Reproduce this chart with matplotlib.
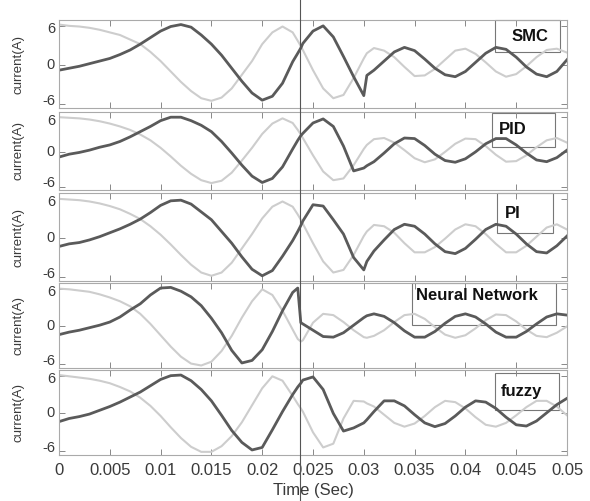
import numpy as np
import matplotlib
matplotlib.use("Agg")
import matplotlib.pyplot as plt
import matplotlib.transforms as mtransforms
from matplotlib.lines import Line2D
from matplotlib.patches import Rectangle

# --- data (time in ms, current in A) ---
t_ms = list(range(0, 24)) + [23.5, 23.8] + list(range(24, 31)) + [30.3] + list(range(31, 51))

smc_ref = [6.2, 6.0, 5.9, 5.7, 5.4, 5.0, 4.6, 3.9, 3.2, 2.0, 0.6, -1.0, -2.6, -4.0, -5.1, -5.5, -5.0, -3.6, -1.5, 0.6, 3.2, 5.0, 5.9, 5.0,
           3.7, 2.9,
           2.3, -0.8, -3.6, -5.1, -4.6, -2.0, 1.0,
           1.8,
           2.6, 2.2, 1.2, -0.3, -1.7, -1.6, -0.6, 0.8, 2.2, 2.5, 1.7, 0.4, -1.0, -1.8, -1.4, -0.2, 1.2, 2.3, 2.5, 1.9]
smc_out = [-0.8, -0.5, -0.2, 0.2, 0.6, 1.0, 1.6, 2.3, 3.2, 4.2, 5.2, 5.9, 6.2, 5.8, 4.6, 3.2, 1.5, -0.5, -2.5, -4.3, -5.4, -4.8, -2.8, 0.5,
           1.8, 2.6,
           3.3, 5.2, 6.0, 4.3, 1.3, -1.8, -4.7,
           -1.6,
           -0.8, 0.6, 2.0, 2.7, 2.2, 0.9, -0.5, -1.5, -1.8, -1.0, 0.4, 1.8, 2.7, 2.4, 1.2, -0.3, -1.4, -1.8, -1.0, 0.8]

pid_ref = [6.0, 5.9, 5.8, 5.6, 5.3, 4.9, 4.4, 3.8, 3.0, 2.0, 0.7, -0.8, -2.4, -3.8, -4.9, -5.4, -5.0, -3.6, -1.5, 0.7, 3.1, 4.9, 5.8, 5.0,
           3.8, 3.0,
           2.4, -0.6, -3.4, -4.9, -4.6, -2.3, 0.5,
           1.2,
           2.2, 2.4, 1.6, 0.3, -1.1, -1.8, -1.3, 0.0, 1.4, 2.3, 2.2, 1.0, -0.5, -1.7, -1.6, -0.6, 0.8, 2.0, 2.4, 1.6]
pid_out = [-0.9, -0.4, -0.1, 0.3, 0.8, 1.2, 1.8, 2.6, 3.5, 4.4, 5.4, 6.0, 6.0, 5.4, 4.6, 3.5, 1.8, -0.2, -2.3, -4.2, -5.3, -4.6, -2.6, 0.5,
           2.0, 2.8,
           3.2, 5.0, 5.7, 4.4, 1.0, -3.3, -2.8,
           -2.4,
           -1.7, -0.2, 1.4, 2.4, 2.3, 1.1, -0.4, -1.5, -1.8, -1.2, 0.0, 1.4, 2.3, 2.3, 1.2, -0.2, -1.4, -1.7, -1.0, 0.3]

pi_ref = [6.0, 5.9, 5.8, 5.6, 5.3, 4.9, 4.4, 3.7, 2.9, 1.8, 0.5, -1.0, -2.6, -4.1, -5.3, -5.8, -5.3, -3.8, -1.6, 0.6, 3.0, 4.8, 5.6, 4.8,
          3.6, 2.8,
          2.2, -0.8, -3.6, -5.3, -4.9, -2.6, 0.3,
          1.0,
          2.0, 1.8, 0.8, -0.8, -2.2, -2.2, -1.4, -0.1, 1.3, 2.1, 1.8, 0.6, -0.9, -2.2, -2.2, -1.2, 0.2, 1.6, 2.1, 1.3]
pi_out = [-1.3, -0.9, -0.7, -0.3, 0.2, 0.8, 1.4, 2.1, 2.9, 3.9, 5.0, 5.7, 5.8, 5.2, 4.0, 2.8, 1.0, -0.8, -2.9, -4.8, -5.8, -5.0, -2.8, -0.4,
          1.0, 1.9,
          2.6, 5.1, 4.9, 2.8, 0.6, -3.0, -4.9,
          -3.6,
          -2.0, -0.3, 1.3, 2.1, 1.8, 0.6, -0.9, -2.1, -2.4, -1.6, -0.2, 1.3, 2.1, 1.8, 0.6, -0.9, -2.1, -2.3, -1.2, 0.3]

nn_ref = [6.0, 5.9, 5.7, 5.5, 5.1, 4.6, 4.0, 3.2, 2.0, 0.4, -1.4, -3.2, -4.8, -5.9, -6.2, -5.6, -3.9, -1.5, 1.4, 4.0, 5.9, 5.0, 2.5, -0.5,
          -2.0, -2.4,
          -2.2, 0.6, 2.0, 1.8, 0.7, -0.6, -1.7,
          -1.8,
          -1.5, -0.6, 0.7, 1.8, 2.0, 1.2, -0.1, -1.3, -1.8, -1.4, -0.3, 1.0, 1.9, 1.8, 0.8, -0.5, -1.5, -1.7, -1.0, 0.0]
nn_out = [-1.3, -0.9, -0.6, -0.2, 0.2, 0.7, 1.5, 2.6, 3.6, 5.0, 6.1, 6.2, 5.6, 4.7, 3.3, 1.3, -1.0, -3.8, -5.8, -5.4, -3.7, -0.8, 2.5, 5.4,
          6.1, 0.6,
          0.4, -0.6, -1.6, -1.7, -1.0, 0.2, 1.4,
          1.7,
          2.0, 1.6, 0.6, -0.7, -1.7, -1.7, -0.8, 0.5, 1.6, 2.0, 1.5, 0.4, -0.9, -1.7, -1.7, -0.8, 0.4, 1.5, 2.0, 1.8]

fuzzy_ref = [6.1, 5.9, 5.7, 5.5, 5.2, 4.8, 4.2, 3.5, 2.5, 1.2, -0.4, -2.2, -3.9, -5.3, -6.1, -6.1, -5.2, -3.6, -1.4, 1.3, 4.0, 5.9, 5.2, 2.8,
             1.5, 0.8,
             0.3, -3.0, -5.4, -4.8, -0.8, 2.0, 1.9,
             1.6,
             1.1, -0.2, -1.5, -2.1, -1.6, -0.4, 1.0, 2.0, 1.8, 0.8, -0.6, -1.8, -2.1, -1.5, -0.3, 1.0, 2.0, 2.0, 1.1, -0.3]
fuzzy_out = [-1.3, -0.8, -0.5, -0.1, 0.5, 1.1, 1.8, 2.6, 3.4, 4.4, 5.4, 6.0, 6.1, 5.2, 3.8, 2.0, -0.3, -2.7, -4.6, -5.8, -5.4, -2.6, 0.3, 3.0,
             4.2, 4.8,
             5.3, 5.8, 3.8, 0.0, -2.8, -2.3, -1.5,
             -1.0,
             0.3, 2.0, 2.0, 1.2, -0.2, -1.5, -2.1, -1.6, -0.4, 1.0, 2.0, 1.8, 0.8, -0.6, -1.8, -2.0, -1.2, 0.1, 1.4, 2.4]

labels = ["SMC", "PID", "PI", "Neural Network", "fuzzy"]
ref_curves = [smc_ref, pid_ref, pi_ref, nn_ref, fuzzy_ref]
out_curves = [smc_out, pid_out, pi_out, nn_out, fuzzy_out]

x_ticks = [0, 0.005, 0.01, 0.015, 0.02, 0.025, 0.03, 0.035, 0.04, 0.045, 0.05]
x_tick_labels = ["0", "0.005", "0.01", "0.015", "0.02", "0.025", "0.03", "0.035", "0.04", "0.045", "0.05"]
y_ticks = [-6, 0, 6]
switch_time = 0.02374

# --- layout (pixels of a 590x501 figure) ---
W, H = 590, 501
left_px, right_px = 59, 567
panel_rows = [(20, 108), (112, 190), (193, 281), (283, 368), (370, 455)]
# label boxes in axes fraction: (x0, x1, y0, y1), text position (x, y)
boxes = [((0.858, 0.986, 0.636, 1.0), (0.927, 0.81)),
         ((0.852, 0.976, 0.551, 0.987), (0.894, 0.77)),
         ((0.862, 0.972, 0.545, 1.0), (0.894, 0.77)),
         ((0.695, 0.978, 0.506, 1.0), (0.823, 0.85)),
         ((0.858, 0.984, 0.53, 0.965), (0.911, 0.75))]
# y tick label vertical alignment / downward pixel shift for -6, 0, 6
ylab_style = [("bottom", 3.5), ("center", 0), ("top", -3.5)]

plt.rcParams['font.family'] = ['Liberation Sans', 'DejaVu Sans']
txt_col = "#3a3a3a"

fig = plt.figure(figsize=(W / 100, H / 100), dpi=100)
time_s = np.array(t_ms) / 1000.0

for k in range(5):
    top, bot = panel_rows[k]
    ax = fig.add_axes([left_px / W, 1 - bot / H, (right_px - left_px) / W, (bot - top) / H])
    ax.plot(time_s, ref_curves[k], color="#cdcdcd", lw=1.5)
    ax.plot(time_s, out_curves[k], color="#5a5a5a", lw=2.0)
    ax.set_xlim(0, 0.05)
    ax.set_ylim(-6.6, 6.9)

    # y tick labels drawn as text so the outer ones stay within the panel height
    ax.set_yticks(y_ticks)
    ax.set_yticklabels([])
    for v, (va, dy) in zip(y_ticks, ylab_style):
        off = mtransforms.ScaledTranslation(-4 / 100, -dy / 100, fig.dpi_scale_trans)
        ax.text(0, v, str(v), transform=ax.get_yaxis_transform() + off,
                ha="right", va=va, fontsize=10.5, color=txt_col)

    ax.set_xticks(x_ticks)
    if k == 4:
        ax.set_xticklabels(x_tick_labels, fontsize=12, color=txt_col)
        ax.set_xlabel("Time (Sec)", fontsize=12, color=txt_col, labelpad=3)
    else:
        ax.set_xticklabels([])
    ax.tick_params(direction="in", length=4, width=0.7, color="#888888", top=True, right=True, pad=6)
    for sp in ax.spines.values():
        sp.set_color("#aaaaaa")
        sp.set_linewidth(0.8)
    ax.set_ylabel("current(A)", fontsize=9.5, color=txt_col)
    ax.yaxis.set_label_coords(-0.068, 0.5)

    (x0, x1, y0, y1), (tx, ty) = boxes[k]
    ax.add_patch(Rectangle((x0, y0), x1 - x0, y1 - y0, transform=ax.transAxes,
                           fill=False, edgecolor="#777777", lw=0.8, clip_on=False))
    ax.text(tx, ty, labels[k], transform=ax.transAxes, fontsize=12, fontweight="bold",
            ha="center", va="center", color="#111111")

# vertical marker at the switching instant, through the whole figure
xf = (left_px + switch_time / 0.05 * (right_px - left_px)) / W
fig.add_artist(Line2D([xf, xf], [0, 1], transform=fig.transFigure, color="#555555", lw=0.8))

fig.savefig("out.png", dpi=100)
